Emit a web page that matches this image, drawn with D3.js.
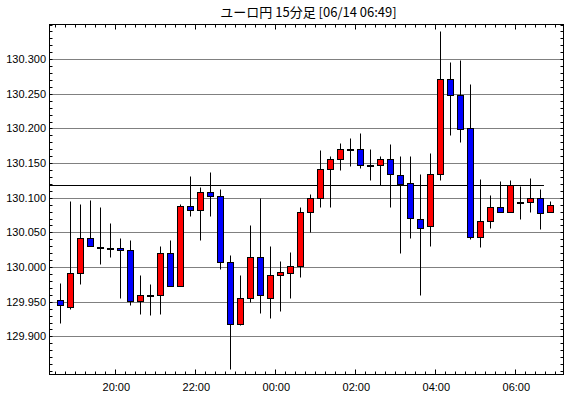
<!DOCTYPE html>
<html>
<head>
<meta charset="utf-8">
<script src="https://cdn.jsdelivr.net/npm/d3@7"></script>
<style>
body { margin: 0; background: #fff; }
text { font-family: "Liberation Sans", Arial, sans-serif; }
</style>
</head>
<body>
<div id="chart"></div>
<script>
// ユーロ円 15分足
var times = ["18:30","18:45","19:00","19:15","19:30","19:45","20:00","20:15","20:30","20:45",
    "21:00","21:15","21:30","21:45","22:00","22:15","22:30","22:45","23:00","23:15",
    "23:30","23:45","00:00","00:15","00:30","00:45","01:00","01:15","01:30","01:45",
    "02:00","02:15","02:30","02:45","03:00","03:15","03:30","03:45","04:00","04:15",
    "04:30","04:45","05:00","05:15","05:30","05:45","06:00","06:15","06:30","06:45"];
var opens = [129.953,129.943,129.992,130.042,130.029,130.028,130.027,130.024,129.951,129.959,
    129.959,130.020,129.972,130.088,130.083,130.109,130.102,130.008,129.918,129.956,
    130.014,129.956,129.988,129.992,130.001,130.079,130.099,130.141,130.156,130.170,
    130.171,130.147,130.147,130.156,130.133,130.121,130.070,130.059,130.134,130.271,
    130.248,130.200,130.043,130.066,130.086,130.079,130.094,130.094,130.099,130.079];
var highs = [129.977,130.095,130.091,130.097,130.087,130.064,130.042,130.039,129.989,129.976,
    130.030,130.039,130.091,130.132,130.115,130.137,130.112,130.017,129.988,130.061,
    130.100,130.030,130.009,130.022,130.086,130.106,130.169,130.160,130.179,130.186,
    130.193,130.170,130.160,130.178,130.160,130.160,130.134,130.165,130.341,130.296,
    130.299,130.264,130.127,130.104,130.124,130.125,130.117,130.129,130.112,130.095];
var lows = [129.920,129.940,129.976,130.030,130.004,130.014,129.956,129.945,129.933,129.931,
    129.933,129.972,129.972,130.073,130.039,130.074,129.997,129.853,129.916,129.950,
    129.934,129.926,129.937,129.956,129.986,130.050,130.086,130.086,130.140,130.146,
    130.143,130.126,130.118,130.086,130.021,130.042,129.959,130.031,130.125,130.191,
    130.180,130.040,130.029,130.057,130.079,130.079,130.069,130.079,130.055,130.079];
var closes = [129.945,129.992,130.042,130.030,130.029,130.028,130.025,129.951,129.959,129.959,
    130.021,129.972,130.088,130.083,130.109,130.102,130.008,129.918,129.956,130.014,
    129.959,129.988,129.993,130.001,130.079,130.099,130.141,130.156,130.170,130.170,
    130.147,130.147,130.156,130.134,130.120,130.071,130.056,130.134,130.271,130.248,
    130.199,130.043,130.066,130.086,130.079,130.119,130.094,130.099,130.078,130.089];
var yLabels = [129.900, 129.950, 130.000, 130.050, 130.100, 130.150, 130.200, 130.250, 130.300];
var xLabels = ["20:00", "22:00", "00:00", "02:00", "04:00", "06:00"];
var refLine = 130.119;
var refLineEnd = "06:43";
var title = "ユーロ円 15分足 [06/14 06:49]";

var w = 570;
var h = 398;
var plotL = 49.5, plotR = 563.5, plotT = 24.5, plotB = 374.5;

// times before noon belong to the next day
function toDate(s) {
    var p = s.split(":");
    var hr = +p[0], mi = +p[1];
    return hr >= 12 ? new Date(2021, 5, 13, hr, mi) : new Date(2021, 5, 14, hr, mi);
}

var data = times.map(function (t, i) {
    return { t: toDate(t), o: opens[i], h: highs[i], l: lows[i], c: closes[i] };
});

var x = d3.scaleTime()
    .domain([new Date(2021, 5, 13, 18, 21, 18), new Date(2021, 5, 14, 7, 12, 18)])
    .range([plotL, plotR]);
var y = d3.scaleLinear()
    .domain([129.845, 130.35])
    .range([plotB, plotT]);

function cx(d) { return Math.round(x(new Date(d.getTime() + 450000))) + 0.5; }
function py(v) { return Math.round(y(v)) + 0.5; }

var svg = d3.select("#chart")
    .append("svg")
    .attr("width", w)
    .attr("height", h);

svg.append("rect").attr("width", w).attr("height", h).attr("fill", "#fff");

// title
svg.append("text")
    .attr("x", (plotL + plotR) / 2 + 2)
    .attr("y", 17)
    .attr("text-anchor", "middle")
    .style("font-family", "'Noto Sans CJK JP', sans-serif")
    .style("font-size", "13px")
    .text(title);

// dotted grid + y labels
svg.selectAll(".grid")
    .data(yLabels)
    .enter()
    .append("line")
    .attr("x1", plotL).attr("x2", plotR)
    .attr("y1", function (d) { return py(d); })
    .attr("y2", function (d) { return py(d); })
    .attr("stroke", "#000")
    .attr("stroke-dasharray", "1,1");

svg.selectAll(".ylab")
    .data(yLabels)
    .enter()
    .append("text")
    .attr("x", 46)
    .attr("y", function (d) { return y(d) + 4; })
    .attr("text-anchor", "end")
    .style("font-size", "11px")
    .text(function (d) { return d.toFixed(3); });

// minor y ticks on both sides
var yMinor = d3.range(0, 51).map(function (i) { return 129.85 + i * 0.01; });
svg.selectAll(".ytl")
    .data(yMinor)
    .enter()
    .append("line")
    .attr("x1", plotL).attr("x2", plotL + 3)
    .attr("y1", function (d) { return py(d); })
    .attr("y2", function (d) { return py(d); })
    .attr("stroke", "#000");
svg.selectAll(".ytr")
    .data(yMinor)
    .enter()
    .append("line")
    .attr("x1", plotR - 3).attr("x2", plotR)
    .attr("y1", function (d) { return py(d); })
    .attr("y2", function (d) { return py(d); })
    .attr("stroke", "#000");

// x ticks top and bottom, every 15 min, longer on the labels
var xTicks = d3.timeMinute.every(15).range(x.domain()[0], x.domain()[1]);
function isMajor(d) { return d.getMinutes() === 0 && d.getHours() % 2 === 0; }
function tx(d) { return Math.round(x(d)) + 0.5; }
svg.selectAll(".xtb")
    .data(xTicks)
    .enter()
    .append("line")
    .attr("x1", tx).attr("x2", tx)
    .attr("y1", plotB)
    .attr("y2", function (d) { return plotB - (isMajor(d) ? 5 : 3); })
    .attr("stroke", "#000");
svg.selectAll(".xtt")
    .data(xTicks)
    .enter()
    .append("line")
    .attr("x1", tx).attr("x2", tx)
    .attr("y1", plotT)
    .attr("y2", function (d) { return plotT + (isMajor(d) ? 5 : 3); })
    .attr("stroke", "#000");

svg.selectAll(".xlab")
    .data(xLabels)
    .enter()
    .append("text")
    .attr("x", function (d) { return x(toDate(d)) + 1; })
    .attr("y", 391)
    .attr("text-anchor", "middle")
    .style("font-size", "11px")
    .text(function (d) { return d; });

// reference line
svg.append("line")
    .attr("x1", plotL)
    .attr("x2", x(toDate(refLineEnd)))
    .attr("y1", py(refLine))
    .attr("y2", py(refLine))
    .attr("stroke", "#000");

// candles
var candles = svg.selectAll("g.candle")
    .data(data)
    .enter()
    .append("g")
    .attr("class", "candle");

candles.append("line")
    .attr("x1", function (d) { return cx(d.t); })
    .attr("x2", function (d) { return cx(d.t); })
    .attr("y1", function (d) { return py(d.h); })
    .attr("y2", function (d) { return py(d.l); })
    .attr("stroke", "#000");

candles.append("rect")
    .attr("x", function (d) { return cx(d.t) - 3; })
    .attr("width", 6)
    .attr("y", function (d) { return py(Math.max(d.o, d.c)); })
    .attr("height", function (d) { return Math.max(1, py(Math.min(d.o, d.c)) - py(Math.max(d.o, d.c))); })
    .attr("fill", function (d) { return d.c >= d.o ? "#ff0000" : "#0000ff"; })
    .attr("stroke", "#000");

// frame
svg.append("rect")
    .attr("x", plotL)
    .attr("y", plotT)
    .attr("width", plotR - plotL)
    .attr("height", plotB - plotT)
    .attr("fill", "none")
    .attr("stroke", "#000");
</script>
</body>
</html>
